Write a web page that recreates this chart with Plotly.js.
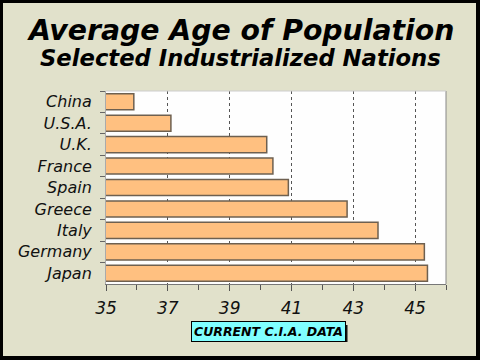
<!DOCTYPE html>
<html>
<head>
<meta charset="utf-8">
<script src="https://cdn.plot.ly/plotly-3.0.1.min.js"></script>
<style>
html,body{margin:0;padding:0;background:#000;}
#wrap{position:absolute;left:0;top:0;width:480px;height:360px;background:#000;}
#chart{position:absolute;left:3px;top:3px;width:473px;height:353px;}
</style>
</head>
<body>
<div id="wrap"><div id="chart"></div></div>
<script>
var countries = ["China","U.S.A.","U.K.","France","Spain","Greece","Italy","Germany","Japan"];
var avgAge = [35.9, 37.1, 40.2, 40.4, 40.9, 42.8, 43.8, 45.3, 45.4];
var xTickVals = [35, 37, 39, 41, 43, 45];
var titleText = "Average Age of Population";
var subtitleText = "Selected Industrialized Nations";
var noteText = "CURRENT C.I.A. DATA";

var W = 473, H = 353;
var mL = 103, mR = 30, mT = 88, mB = 72;
var plotH = H - mT - mB;
var plotW = W - mL - mR;
function py(yPage){ var y = yPage - 3; return (H - mB - y) / plotH; }
function px(xPage){ var x = xPage - 3; return (x - mL) / plotW; }

var font = "DejaVu Sans, Verdana, sans-serif";

var trace = {
  type: "bar",
  orientation: "h",
  y: countries,
  x: avgAge,
  base: 0,
  marker: {color: "#ffc080", line: {color: "#6e6050", width: 1.5}},
  hoverinfo: "none"
};

var layout = {
  width: W, height: H,
  margin: {l: mL, r: mR, t: mT, b: mB},
  paper_bgcolor: "#e1e1cb",
  plot_bgcolor: "#fefefe",
  showlegend: false,
  bargap: 0.25,
  font: {family: font, color: "#111"},
  xaxis: {
    range: [35, 46],
    tickvals: xTickVals,
    ticks: "outside", ticklen: 6, tickcolor: "#555", tickwidth: 1,
    ticklabelstandoff: 3,
    tickfont: {family: font, size: 17, color: "#111", style: "italic"},
    showgrid: true, gridcolor: "#555", griddash: "dot", gridwidth: 1,
    showline: true, linecolor: "#777", linewidth: 1,
    mirror: false,
    zeroline: false,
    minor: {dtick: 1, tick0: 35, ticks: "outside", ticklen: 5, tickcolor: "#555", showgrid: false}
  },
  yaxis: {
    autorange: "reversed",
    type: "category",
    tickson: "boundaries",
    ticks: "outside", ticklen: 5, tickcolor: "#666",
    ticklabelstandoff: 10,
    tickfont: {family: font, size: 16, color: "#111", style: "italic"},
    showline: true, linecolor: "#aaa", linewidth: 1,
    showgrid: false
  },
  shapes: [
    {type: "line", xref: "paper", yref: "paper", x0: 1, x1: 1, y0: 0, y1: 1, line: {color: "#888", width: 1}},
    {type: "line", xref: "paper", yref: "paper", x0: 0, x1: 1, y0: 1, y1: 1, line: {color: "#ccc", width: 1}},
    {type: "rect", xref: "paper", yref: "paper", x0: px(194), x1: px(347.5), y0: py(342), y1: py(325),
     line: {width: 0}, fillcolor: "#111"}
  ],
  annotations: [
    {xref: "paper", yref: "paper", x: px(240), y: py(30), xanchor: "center", yanchor: "middle",
     text: "<b><i>" + titleText + "</i></b>", showarrow: false,
     font: {family: font, size: 28.3, color: "#000"}},
    {xref: "paper", yref: "paper", x: px(240), y: py(58), xanchor: "center", yanchor: "middle",
     text: "<b><i>" + subtitleText + "</i></b>", showarrow: false,
     font: {family: font, size: 22.7, color: "#000"}},
    {xref: "paper", yref: "paper", x: px(268.5), y: py(331), xanchor: "center", yanchor: "middle",
     text: "<b><i>" + noteText + "</i></b>", showarrow: false,
     bgcolor: "#80ffff", bordercolor: "#000", borderwidth: 1, borderpad: 2,
     font: {family: font, size: 12.5, color: "#000"}}
  ]
};

Plotly.newPlot("chart", [trace], layout, {staticPlot: true, displayModeBar: false});
</script>
</body>
</html>
